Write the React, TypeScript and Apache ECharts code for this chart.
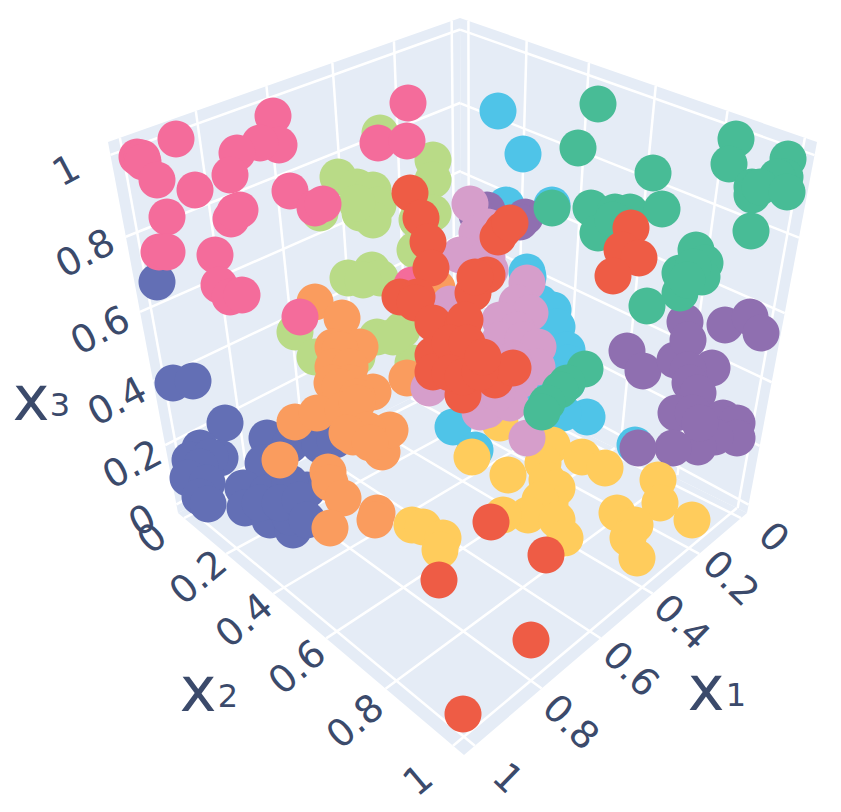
import React, { useEffect, useRef } from "react";
import * as echarts from "echarts";

const WIDTH = 841;
const HEIGHT = 812;

const indigo = [[157,282],[173,383],[193,381],[225,423],[200,448],[190,460],[220,458],[210,457],[200,467],[188,478],[207,483],[200,497],[208,504],[267,438],[263,463],[243,488],[245,508],[270,520],[293,530],[283,497],[267,493],[300,513],[307,490],[290,483],[260,503],[290,517],[280,503],[300,500],[307,520],[290,445],[320,445],[335,440]];
const skyBlue = [[498,111],[523,154],[506,205],[552,205],[527,272],[528,277],[540,303],[543,313],[553,310],[557,327],[567,350],[568,363],[567,383],[533,393],[587,417],[563,413],[453,427],[475,450],[635,445]];
const purple = [[627,351],[643,371],[675,360],[685,322],[688,340],[712,368],[688,370],[690,383],[698,393],[676,413],[693,413],[723,418],[737,423],[737,438],[715,437],[698,447],[673,448],[638,448],[725,325],[750,317],[761,333],[700,423],[525,217],[487,210],[477,215],[520,222]];
const yellow = [[472,457],[508,475],[552,445],[543,463],[547,480],[582,457],[605,468],[557,488],[550,503],[540,500],[500,423],[528,515],[503,515],[557,520],[565,538],[658,480],[660,503],[692,520],[617,513],[635,525],[628,538],[637,558],[412,525],[423,527],[443,538],[440,550]];
const lime = [[338,177],[357,187],[373,190],[378,205],[360,213],[373,220],[357,203],[320,213],[380,133],[348,278],[372,270],[380,278],[363,280],[433,160],[433,180],[417,200],[417,220],[415,250],[433,213],[295,332],[315,357],[377,337],[402,330],[357,357],[413,363],[393,337]];
const orange = [[280,460],[328,472],[330,483],[343,498],[377,513],[375,520],[330,528],[315,302],[342,318],[333,347],[360,347],[340,350],[333,367],[350,367],[332,383],[350,383],[373,392],[340,387],[357,397],[295,422],[317,413],[343,410],[357,403],[353,437],[382,452],[390,430],[367,430],[347,433],[370,443],[407,378],[437,288]];
const magenta = [[176,139],[137,157],[142,158],[143,162],[157,180],[195,190],[167,217],[159,252],[167,252],[273,116],[279,145],[260,143],[237,153],[230,175],[231,219],[240,210],[235,212],[215,255],[219,285],[230,297],[242,295],[290,191],[315,208],[323,204],[408,103],[378,143],[407,141],[300,317],[412,285]];
const plum = [[470,204],[477,233],[488,227],[460,255],[487,257],[490,270],[450,304],[527,283],[517,303],[530,313],[500,320],[517,330],[500,340],[523,340],[538,347],[537,367],[513,360],[520,380],[503,400],[487,410],[510,403],[429,388],[480,412],[497,393],[527,438]];
const mint = [[598,104],[578,148],[653,173],[736,139],[729,164],[788,159],[785,177],[752,187],[752,195],[777,177],[760,187],[787,192],[751,231],[552,208],[591,208],[615,212],[630,212],[662,209],[598,233],[613,220],[696,250],[705,263],[680,273],[702,277],[680,293],[693,267],[687,280],[647,306],[585,369],[567,383],[560,390],[547,403],[542,412]];
const red = [[410,193],[421,218],[428,242],[431,268],[400,297],[417,297],[415,303],[433,323],[463,325],[473,293],[487,275],[475,277],[465,320],[433,355],[433,372],[467,355],[473,357],[463,395],[495,380],[513,368],[450,343],[467,343],[450,373],[463,377],[480,372],[483,357],[503,230],[498,237],[510,223],[631,228],[622,250],[639,258],[613,276],[491,522],[546,555],[439,580],[531,640],[463,714]];

const clusters: [number[][], string][] = [
  [indigo, "#636FB5"],
  [skyBlue, "#4FC4E8"],
  [purple, "#8F6FB0"],
  [yellow, "#FFCC5C"],
  [lime, "#B9DB87"],
  [orange, "#FA9C5E"],
  [magenta, "#F46C9B"],
  [plum, "#D69ECB"],
  [mint, "#48BC96"],
  [red, "#EE5C45"],
];

const ticks = [0, 0.2, 0.4, 0.6, 0.8, 1];
const tickLabels = ["0", "0.2", "0.4", "0.6", "0.8", "1"];
const x3Anchors = [[142, 520], [132, 464], [117, 401], [100, 330], [85, 253], [66, 170]];
const x2Anchors = [[152, 538], [198, 577], [244, 620], [297, 667], [355, 721], [418, 780]];
const x1Anchors = [[774, 537], [731, 578], [682, 622], [631, 669], [571, 722], [508, 778]];

const PAD = 0.03;
const frac = (t: number) => (t + PAD) / (1 + 2 * PAD);

type P = number[];
// projective map of the unit square onto a quad p00, p10, p11, p01
function quadMap(p00: P, p10: P, p11: P, p01: P) {
  const dx1 = p10[0] - p11[0], dx2 = p01[0] - p11[0], sx = p00[0] - p10[0] + p11[0] - p01[0];
  const dy1 = p10[1] - p11[1], dy2 = p01[1] - p11[1], sy = p00[1] - p10[1] + p11[1] - p01[1];
  const den = dx1 * dy2 - dx2 * dy1;
  const g = (sx * dy2 - dx2 * sy) / den;
  const h = (dx1 * sy - sx * dy1) / den;
  const a = p10[0] - p00[0] + g * p10[0], b = p01[0] - p00[0] + h * p01[0], c = p00[0];
  const d = p10[1] - p00[1] + g * p10[1], e = p01[1] - p00[1] + h * p01[1], f = p00[1];
  return (u: number, v: number): P => {
    const w = g * u + h * v + 1;
    return [(a * u + b * v + c) / w, (d * u + e * v + f) / w];
  };
}

const FLOOR_BACK = [462, 373], WALL_BACK = [462, 358], BACK_TOP = [460, 18];
const LEFT_BOTTOM = [178, 513], LEFT_TOP = [108, 142];
const RIGHT_BOTTOM = [747, 513], RIGHT_TOP = [817, 142];
const FRONT = [464, 755];

const faces: P[][] = [
  [FLOOR_BACK, RIGHT_BOTTOM, FRONT, LEFT_BOTTOM],
  [FLOOR_BACK, LEFT_BOTTOM, LEFT_TOP, BACK_TOP],
  [FLOOR_BACK, RIGHT_BOTTOM, RIGHT_TOP, BACK_TOP],
];

function gridSegments(): P[][] {
  const out: P[][] = [];
  const floor = quadMap(FLOOR_BACK, RIGHT_BOTTOM, FRONT, LEFT_BOTTOM);
  const left = quadMap(WALL_BACK, LEFT_BOTTOM, LEFT_TOP, BACK_TOP);
  const right = quadMap(WALL_BACK, RIGHT_BOTTOM, RIGHT_TOP, BACK_TOP);
  for (const t of ticks) {
    const s = frac(t);
    out.push([floor(s, 0), floor(s, 1)], [floor(0, s), floor(1, s)]);
    out.push([left(s, 0), left(s, 1)], [left(0, s), left(1, s)]);
    out.push([right(s, 0), right(s, 1)], [right(0, s), right(1, s)]);
  }
  return out;
}

const AXIS_COLOR = "#3B4A6B";
const FONT = "'DejaVu Sans', sans-serif";

function textSeries(rows: any[]) {
  return {
    type: "custom",
    coordinateSystem: "cartesian2d",
    silent: true,
    z: 20,
    data: rows,
    renderItem: (_: any, api: any) => {
      const c = api.coord([api.value(0), api.value(1)]);
      return {
        type: "text",
        x: c[0],
        y: c[1],
        rotation: (api.value(3) * Math.PI) / 180,
        style: {
          text: String(api.value(2)),
          fontSize: api.value(4),
          fontFamily: FONT,
          fill: AXIS_COLOR,
          align: "center",
          verticalAlign: "middle",
        },
      };
    },
    encode: { x: 0, y: 1 },
    dimensions: ["x", "y", { name: "t", type: "ordinal" }, "r", "s"],
  };
}

function buildOption() {
  const tickRows = (anchors: number[][], rot: number) =>
    anchors.map((a, i) => [a[0], a[1], tickLabels[i], rot, 38]);
  return {
    animation: false,
    backgroundColor: "#fff",
    grid: { left: 0, right: 0, top: 0, bottom: 0 },
    xAxis: { type: "value", min: 0, max: WIDTH, show: false },
    yAxis: { type: "value", min: 0, max: HEIGHT, inverse: true, show: false },
    series: [
      {
        type: "custom",
        coordinateSystem: "cartesian2d",
        silent: true,
        z: 1,
        data: faces.map((f) => f.flat()),
        renderItem: (_: any, api: any) => ({
          type: "polygon",
          shape: {
            points: [0, 1, 2, 3].map((i) => api.coord([api.value(i * 2), api.value(i * 2 + 1)])),
          },
          style: { fill: "#E5ECF6" },
        }),
      },
      {
        type: "custom",
        coordinateSystem: "cartesian2d",
        silent: true,
        z: 2,
        data: gridSegments().map((s) => s.flat()),
        renderItem: (_: any, api: any) => {
          const a = api.coord([api.value(0), api.value(1)]);
          const b = api.coord([api.value(2), api.value(3)]);
          return {
            type: "line",
            shape: { x1: a[0], y1: a[1], x2: b[0], y2: b[1] },
            style: { stroke: "#fff", lineWidth: 2.5 },
          };
        },
      },
      ...clusters.map(([d, color], i) => ({
        type: "scatter",
        silent: true,
        z: 3 + i,
        data: d,
        symbolSize: 37,
        itemStyle: { color, opacity: 1 },
      })),
      textSeries(tickRows(x3Anchors, 28)),
      textSeries(tickRows(x2Anchors, 40)),
      textSeries(tickRows(x1Anchors, -44)),
      textSeries([
        [31, 398, "x", 0, 62],
        [60, 405, "3", 0, 32],
        [198, 689, "x", 0, 62],
        [228, 696, "2", 0, 32],
        [706, 688, "x", 0, 62],
        [736, 695, "1", 0, 32],
      ]),
    ],
  };
}

export default function App() {
  const ref = useRef<HTMLDivElement>(null);
  useEffect(() => {
    const chart = echarts.init(ref.current!, undefined, { renderer: "svg" });
    chart.setOption(buildOption() as any);
    return () => chart.dispose();
  }, []);
  return (
    <div
      ref={ref}
      style={{ position: "fixed", left: 0, top: 0, width: WIDTH, height: HEIGHT, background: "#fff" }}
    />
  );
}
